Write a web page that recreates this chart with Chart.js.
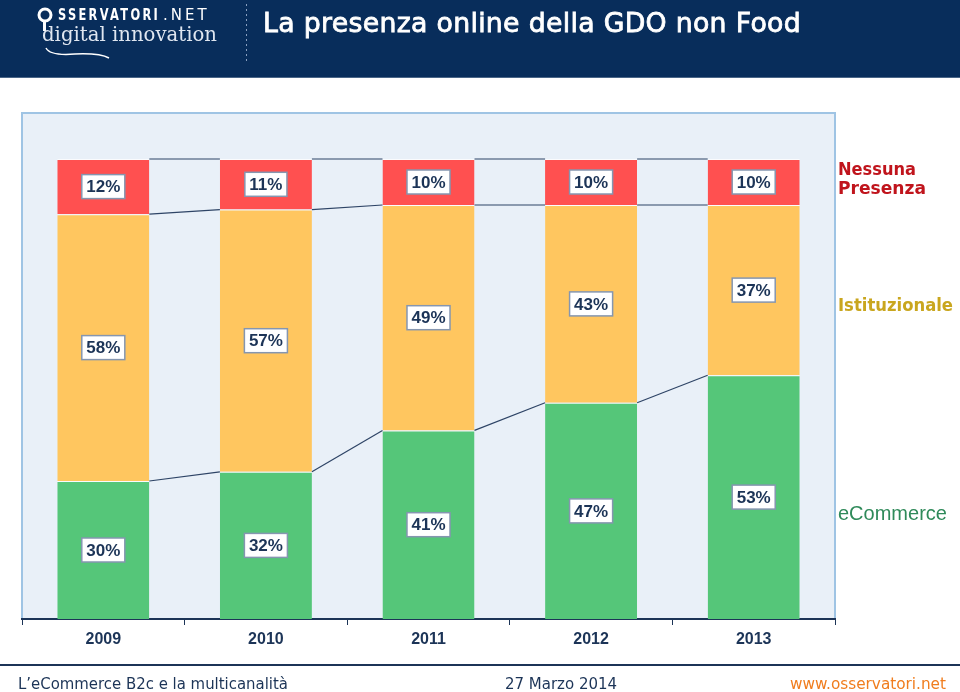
<!DOCTYPE html>
<html>
<head>
<meta charset="utf-8">
<script src="https://cdn.jsdelivr.net/npm/chart.js@4.4.1/dist/chart.umd.min.js"></script>
<style>
  body { margin: 0; background: #fff; }
  #wrap { width: 960px; height: 692px; }
</style>
</head>
<body>
<div id="wrap"><canvas id="bar-chart" width="960" height="692"></canvas></div>
<script>
    var years = ["2009", "2010", "2011", "2012", "2013"];
    var ecommerce = [30, 32, 41, 47, 53];
    var istituzionale = [58, 57, 49, 43, 37];
    var nessuna = [12, 11, 10, 10, 10];
    var seriesNames = ["eCommerce", "Istituzionale", "Nessuna Presenza"];

    var navy = "#1c3457";
    var arial = "'Liberation Sans', Arial, sans-serif";

    // header, footer and plot box
    var frame = {
      id: "frame",
      beforeDraw: function(chart) {
        var ctx = chart.ctx;
        var a = chart.chartArea;
        ctx.save();
        ctx.fillStyle = "#fff";
        ctx.fillRect(0, 0, 960, 692);

        ctx.fillStyle = "#082d5b";
        ctx.fillRect(0, 0, 960, 77);
        ctx.fillStyle = "#4a6688";
        ctx.fillRect(0, 77, 960, 1);

        // logo
        ctx.fillStyle = "#fff";
        ctx.beginPath();
        ctx.arc(45, 15, 6, 0, Math.PI * 2);
        ctx.lineWidth = 3;
        ctx.strokeStyle = "#fff";
        ctx.stroke();
        ctx.fillRect(43, 21, 3, 10);
        ctx.font = "bold 15px 'DejaVu Sans'";
        ctx.textBaseline = "middle";
        ctx.textAlign = "left";
        ctx.letterSpacing = "3px";
        ctx.fillText("SSERVATORI", 58, 16, 102);
        ctx.font = "15px 'DejaVu Sans'";
        ctx.fillText(".NET", 163, 16, 52);
        ctx.letterSpacing = "0px";
        ctx.font = "20px 'DejaVu Serif'";
        ctx.fillStyle = "#dfe6f0";
        ctx.fillText("digital innovation", 42, 36, 175);
        ctx.beginPath();
        ctx.moveTo(46, 48);
        ctx.quadraticCurveTo(50, 56, 75, 54);
        ctx.quadraticCurveTo(100, 53, 109, 58);
        ctx.lineWidth = 1.5;
        ctx.strokeStyle = "#fff";
        ctx.stroke();

        // dotted separator
        ctx.fillStyle = "#8aa0c0";
        for (var yy = 4; yy < 62; yy += 5) ctx.fillRect(246, yy, 1, 2);

        // title, regular weight thickened a little
        ctx.fillStyle = "#fff";
        ctx.strokeStyle = "#fff";
        ctx.lineWidth = 0.8;
        ctx.font = "27px 'DejaVu Sans'";
        ctx.letterSpacing = "0.3px";
        ctx.fillText("La presenza online della GDO non Food", 263, 25, 538);
        ctx.strokeText("La presenza online della GDO non Food", 263, 25, 538);
        ctx.letterSpacing = "0px";

        // plot box
        ctx.fillStyle = "#e9f0f8";
        ctx.fillRect(a.left, a.top, a.right - a.left, a.bottom - a.top);
        ctx.strokeStyle = "#9fc4e4";
        ctx.lineWidth = 2;
        ctx.strokeRect(a.left, a.top, a.right - a.left, a.bottom - a.top);

        // footer
        ctx.fillStyle = navy;
        ctx.fillRect(0, 664, 960, 2);
        ctx.font = "16px 'DejaVu Sans'";
        ctx.fillText("L\u2019eCommerce B2c e la multicanalit\u00e0", 18, 685, 270);
        ctx.fillText("27 Marzo 2014", 505, 685, 112);
        ctx.fillStyle = "#f07d1e";
        ctx.fillText("www.osservatori.net", 790, 685, 156);
        ctx.restore();
      },
      afterDatasetsDraw: function(chart) {
        var ctx = chart.ctx;
        var n = chart.data.datasets.length;
        ctx.save();

        // series lines between bars
        ctx.strokeStyle = "#2e4466";
        ctx.lineWidth = 1.2;
        for (var d = 0; d < n; d++) {
          var bars = chart.getDatasetMeta(d).data;
          for (var i = 0; i < bars.length - 1; i++) {
            var b1 = bars[i], b2 = bars[i + 1];
            ctx.beginPath();
            ctx.moveTo(b1.x + b1.width / 2, b1.y);
            ctx.lineTo(b2.x - b2.width / 2, b2.y);
            ctx.stroke();
          }
        }

        // value boxes
        ctx.font = "bold 17px " + arial;
        ctx.textAlign = "center";
        ctx.textBaseline = "middle";
        for (var d = 0; d < n; d++) {
          var meta = chart.getDatasetMeta(d);
          var vals = chart.data.datasets[d].data;
          meta.data.forEach(function(bar, i) {
            var txt = vals[i] + "%";
            var w = ctx.measureText(txt).width + 9;
            var cy = (bar.y + bar.base) / 2;
            ctx.fillStyle = "#fff";
            ctx.fillRect(bar.x - w / 2, cy - 12, w, 24);
            ctx.strokeStyle = "#8596b0";
            ctx.lineWidth = 1.5;
            ctx.strokeRect(bar.x - w / 2, cy - 12, w, 24);
            ctx.fillStyle = navy;
            ctx.fillText(txt, bar.x, cy + 1);
          });
        }

        // series names on the right
        ctx.textAlign = "left";
        ctx.font = "bold 18px 'DejaVu Sans'";
        ctx.fillStyle = "#c0141c";
        ctx.fillText("Nessuna", 838, 170, 78);
        ctx.fillText("Presenza", 838, 189, 88);
        ctx.fillStyle = "#c9a61e";
        ctx.fillText(seriesNames[1], 838, 306, 115);
        ctx.font = "20px " + arial;
        ctx.fillStyle = "#2f8a5a";
        ctx.fillText(seriesNames[0], 838, 514);
        ctx.restore();
      }
    };

    new Chart(document.getElementById("bar-chart"), {
      type: "bar",
      data: {
        labels: years,
        datasets: [{
          label: seriesNames[0],
          backgroundColor: "#55c679",
          data: ecommerce
        }, {
          label: seriesNames[1],
          backgroundColor: "#ffc65f",
          data: istituzionale
        }, {
          label: seriesNames[2],
          backgroundColor: "#ff5050",
          data: nessuna
        }]
      },
      options: {
        responsive: false,
        animation: false,
        layout: { padding: { left: 22, right: 125, top: 113, bottom: 0 } },
        datasets: {
          bar: {
            barPercentage: 0.566,
            categoryPercentage: 1,
            borderColor: "rgba(255,255,255,0.75)",
            borderWidth: { top: 1, left: 0, right: 0, bottom: 0 },
            borderSkipped: false
          }
        },
        plugins: {
          legend: { display: false },
          title: { display: false },
          tooltip: { enabled: false }
        },
        scales: {
          x: {
            stacked: true,
            afterFit: function(scale) { scale.height = 73; },
            border: { color: navy, width: 2 },
            grid: { drawOnChartArea: false, tickLength: 6, color: navy, offset: true },
            ticks: { color: navy, padding: 5, font: { family: arial, size: 16, weight: "bold" } }
          },
          y: {
            stacked: true,
            display: false,
            min: 0,
            max: 110
          }
        }
      },
      plugins: [frame]
    });
</script>
</body>
</html>
